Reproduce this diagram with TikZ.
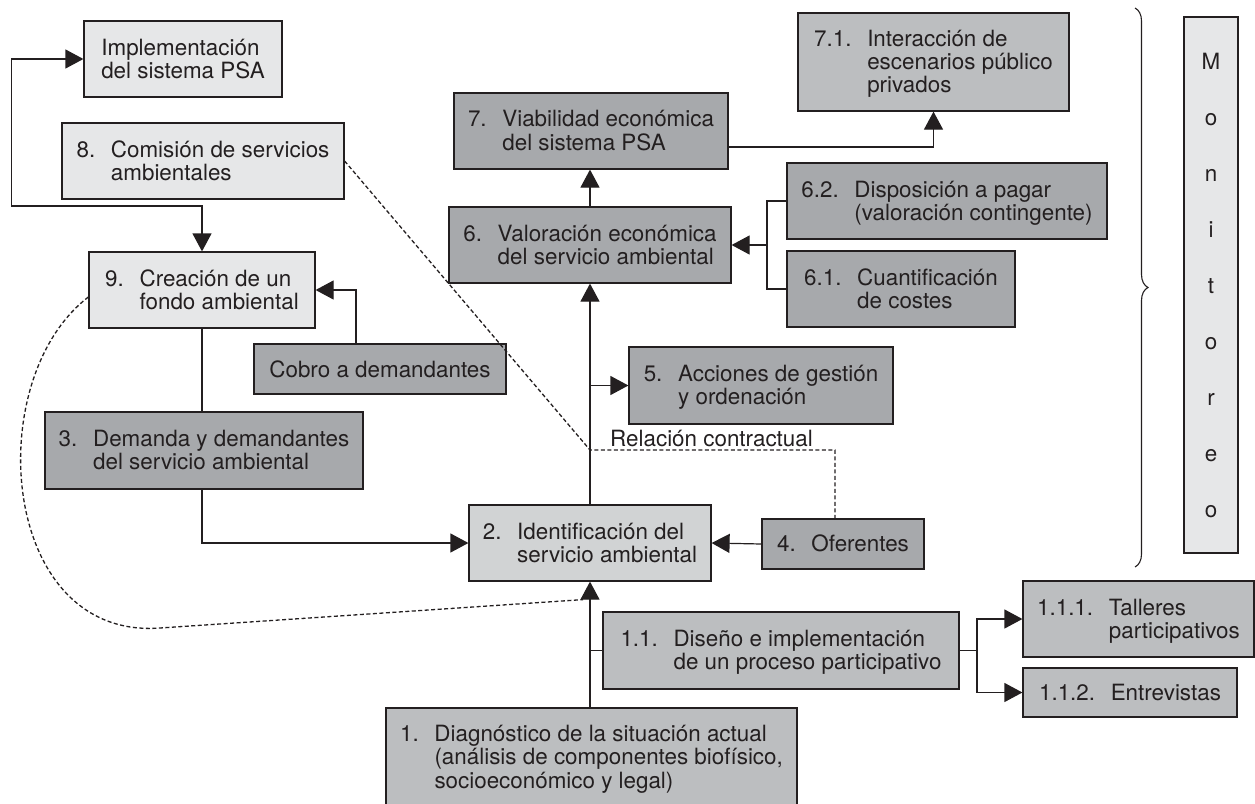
\documentclass[tikz,border=0pt]{standalone}
\usepackage{fontspec}
\setmainfont{TeX Gyre Heros}
\usepackage{xcolor}
\usepackage{tikz}
\usetikzlibrary{arrows.meta,positioning,calc,decorations.pathreplacing}

\definecolor{claro}{HTML}{E6E7E8}
\definecolor{medio}{HTML}{D1D3D4}
\definecolor{gris}{HTML}{BCBEC0}
\definecolor{oscuro}{HTML}{A7A9AC}
\definecolor{trazo}{HTML}{231F20}

\newcommand{\paso}[2]{\raisebox{-3pt}[\height][\depth]{\begin{tabular}{@{}l@{\hspace{0.7em}}l@{}}#1&#2\end{tabular}}}

\begin{document}
\begin{tikzpicture}[x=1pt, y=-1pt,
    every node/.style={font=\fontsize{22.4}{23.3}\selectfont, text=trazo},
    caja/.style={draw=trazo, line width=1.2pt, inner sep=0pt},
    punta/.tip={Triangle[length=18pt,width=19pt]},
    linea/.style={draw=trazo, line width=1.2pt},
    flecha/.style={linea, -punta},
    discont/.style={draw=trazo, line width=1.3pt, dash pattern=on 4pt off 2.5pt}]
    \useasboundingbox (0,0) rectangle (1255,803);

    \node (impl) [caja, fill=claro, minimum width=198, minimum height=76, align=left] at (183,59) {Implementación\\del sistema PSA};
    \node (comision) [caja, fill=claro, minimum width=282, minimum height=76] at (203,161) {\paso{8.}{Comisión de servicios\\&ambientales}};
    \node (fondo) [caja, fill=claro, minimum width=226, minimum height=76] at (202,290) {\paso{9.}{Creación de un\\&fondo ambiental}};
    \node (cobro) [caja, fill=oscuro, minimum width=252, minimum height=50] at (380,369) {Cobro a demandantes};
    \node (demanda) [caja, fill=oscuro, minimum width=318, minimum height=77] at (204,450.5) {\paso{3.}{Demanda y demandantes\\&del servicio ambiental}};
    \node (ident) [caja, fill=medio, minimum width=242, minimum height=76] at (590,543) {\paso{2.}{Identificación del\\&servicio ambiental}};
    \node (oferentes) [caja, fill=oscuro, minimum width=162, minimum height=50] at (843,544) {\paso{4.}{Oferentes}};
    \node (acciones) [caja, fill=oscuro, minimum width=264, minimum height=77] at (761,385.5) {\paso{5.}{Acciones de gestión\\&y ordenación}};
    \node (valoracion) [caja, fill=oscuro, minimum width=282, minimum height=76] at (590,245) {\paso{6.}{Valoración económica\\&del servicio ambiental}};
    \node (viab) [caja, fill=oscuro, minimum width=274, minimum height=76] at (591,131) {\paso{7.}{Viabilidad económica\\&del sistema PSA}};
    \node (interac) [caja, fill=gris, minimum width=271, minimum height=98] at (933.5,62) {\paso{7.1.}{Interacción de\\&escenarios público\\&privados}};
    \node (disp) [caja, fill=oscuro, minimum width=320, minimum height=76] at (947,201) {\paso{6.2.}{Disposición a pagar\\&(valoración contingente)}};
    \node (cuant) [caja, fill=oscuro, minimum width=228, minimum height=76] at (901,289) {\paso{6.1.}{Cuantificación\\&de costes}};
    \node (monitoreo) [caja, fill=claro, minimum width=54, minimum height=536, align=center, font=\fontsize{22.4}{56}\selectfont] at (1211,285) {M\\o\\n\\i\\t\\o\\r\\e\\o};
    \node (diseno) [caja, fill=gris, minimum width=356, minimum height=77] at (781,650.5) {\paso{1.1.}{Diseño e implementación\\&de un proceso participativo}};
    \node (talleres) [caja, fill=gris, minimum width=231, minimum height=76] at (1138.5,619) {\paso{1.1.1.}{Talleres\\&participativos}};
    \node (entrev) [caja, fill=gris, minimum width=214, minimum height=49] at (1130,692.5) {\paso{1.1.2.}{Entrevistas}};
    \node (diag) [caja, fill=gris, minimum width=411, minimum height=98] at (591.5,757) {\paso{1.}{Diagnóstico de la situación actual\\&(análisis de componentes biofísico,\\&socioeconómico y legal)}};
    \node (relacion) [inner sep=0pt, anchor=base west] at (610,446) {Relación contractual};

    \coordinate (contrato) at (590,450);
    \coordinate (rama6) at (767,245);
    \coordinate (rama11) at (977,650.5);

    \draw[linea, punta-punta] (impl.west) -| ++(-72,147) -| (fondo.north);
    \draw[flecha] ([xshift=-24pt]cobro.north) |- (fondo.east);
    \draw[linea] (fondo.south) -- (fondo.south |- demanda.north);
    \draw[flecha] (fondo.south |- demanda.south) |- (ident.west);
    \draw[flecha] (oferentes.west) -- (ident.east);
    \draw[flecha] (ident.north) -- (valoracion.south);
    \draw[flecha] (ident.north |- acciones.west) -- (acciones.west);
    \draw[flecha] (valoracion.north) -- (valoracion.north |- viab.south);
    \draw[flecha] ([yshift=-16pt]viab.east) -| (interac.south);
    \draw[linea] (disp.west) -| (rama6) |- (cuant.west);
    \draw[flecha] (rama6) -- (valoracion.east);
    \draw[flecha] (ident.south |- diag.north) -- (ident.south);
    \draw[linea] (ident.south |- diseno.west) -- (diseno.west);
    \draw[linea] (diseno.east) -- (rama11);
    \draw[flecha] (rama11) |- (talleres.west);
    \draw[flecha] (rama11) |- (entrev.west);

    \draw[discont] (comision.east) -- (contrato) -| ([xshift=-8pt]oferentes.north);
    \draw[discont] ([yshift=-7pt]fondo.west) .. controls (-20,380) and (0,640) .. (160,628) -- ([xshift=-7pt,yshift=-18pt]ident.south);

    \draw[draw=trazo, line width=1.1pt, decorate, decoration={brace, amplitude=13pt}] (1135,8) -- (1135,567);
\end{tikzpicture}
\end{document}
